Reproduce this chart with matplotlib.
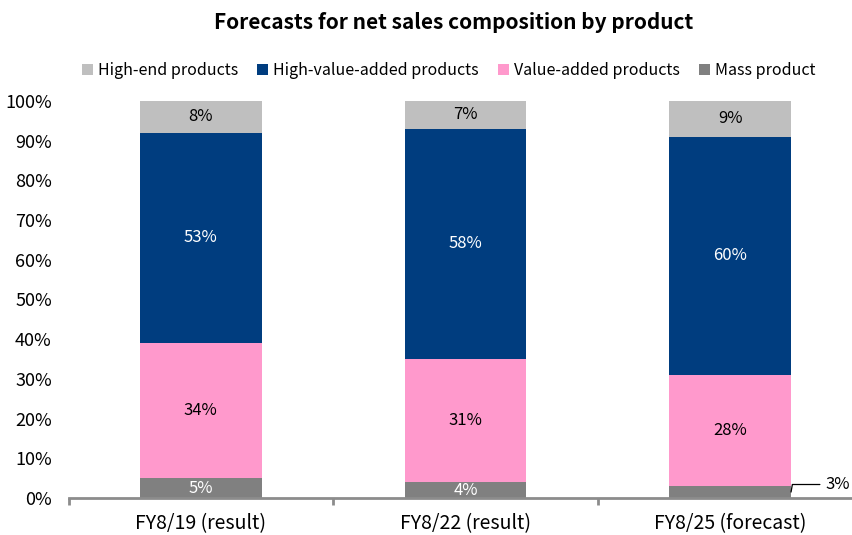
import matplotlib.pyplot as plt
import numpy as np

plt.rcParams['font.family'] = ['Noto Sans CJK JP', 'DejaVu Sans']

categories = ['FY8/19 (result)', 'FY8/22 (result)', 'FY8/25 (forecast)']
series_names = ['Mass product', 'Value-added products', 'High-value-added products', 'High-end products']
mass = [5, 4, 3]
value_added = [34, 31, 28]
high_value_added = [53, 58, 60]
high_end = [8, 7, 9]

colors = ['#808080', '#FF99CC', '#003D7F', '#BFBFBF']
label_colors = ['white', 'black', 'white', 'black']

fig = plt.figure(figsize=(8.53, 5.35), dpi=100)
ax = fig.add_axes([68.5 / 853, 37 / 535, 794 / 853, 397 / 535])

x = np.arange(len(categories))
data = [mass, value_added, high_value_added, high_end]
bottom = np.zeros(len(categories))
handles = []
for vals, name, col, lc in zip(data, series_names, colors, label_colors):
    vals = np.array(vals, dtype=float)
    b = ax.bar(x, vals, 0.46, bottom=bottom, color=col, label=name)
    handles.append(b)
    for i, v in enumerate(vals):
        if name == 'Mass product' and i == 2:
            # small slice: label outside with leader line
            ax.annotate('%d%%' % v, xy=(x[i] + 0.23, bottom[i] + v / 2),
                        xytext=(x[i] + 0.36, bottom[i] + v + 0.4),
                        fontsize=12, color='black', va='center', ha='left',
                        arrowprops=dict(arrowstyle='-', color='black', lw=0.9,
                                        shrinkA=2, shrinkB=0,
                                        connectionstyle='angle,angleA=0,angleB=80,rad=0'))
            continue
        ax.text(x[i], bottom[i] + v / 2, '%d%%' % v, ha='center', va='center',
                fontsize=12, color=lc)
    bottom += vals

ax.set_xlim(-0.5, 2.5)
ax.set_ylim(0, 100)
ax.set_yticks(np.arange(0, 101, 10))
ax.set_yticklabels(['%d%%' % t for t in range(0, 101, 10)], fontsize=13)
ax.tick_params(axis='y', length=0, pad=12)

ax.set_xticks(x)
ax.set_xticklabels(categories, fontsize=14)
ax.set_xticks([-0.5, 0.5, 1.5, 2.5], minor=True)
ax.tick_params(axis='x', which='major', length=0, pad=11)
ax.tick_params(axis='x', which='minor', length=5, width=2, color='#8C8C8C')

for s in ['top', 'right', 'left']:
    ax.spines[s].set_visible(False)
ax.spines['bottom'].set_color('#8C8C8C')
ax.spines['bottom'].set_linewidth(2)

fig.text(0.532, 0.958, 'Forecasts for net sales composition by product',
         ha='center', va='center', fontsize=15, fontweight='bold')

leg_order = [3, 2, 1, 0]
fig.legend([handles[i] for i in leg_order], [series_names[i] for i in leg_order],
           loc='center', bbox_to_anchor=(0.526, 0.868), ncol=4, frameon=False,
           fontsize=11.5, handlelength=0.7, handleheight=0.7, handletextpad=0.3,
           columnspacing=1.2)

plt.savefig('out.png', dpi=100)
